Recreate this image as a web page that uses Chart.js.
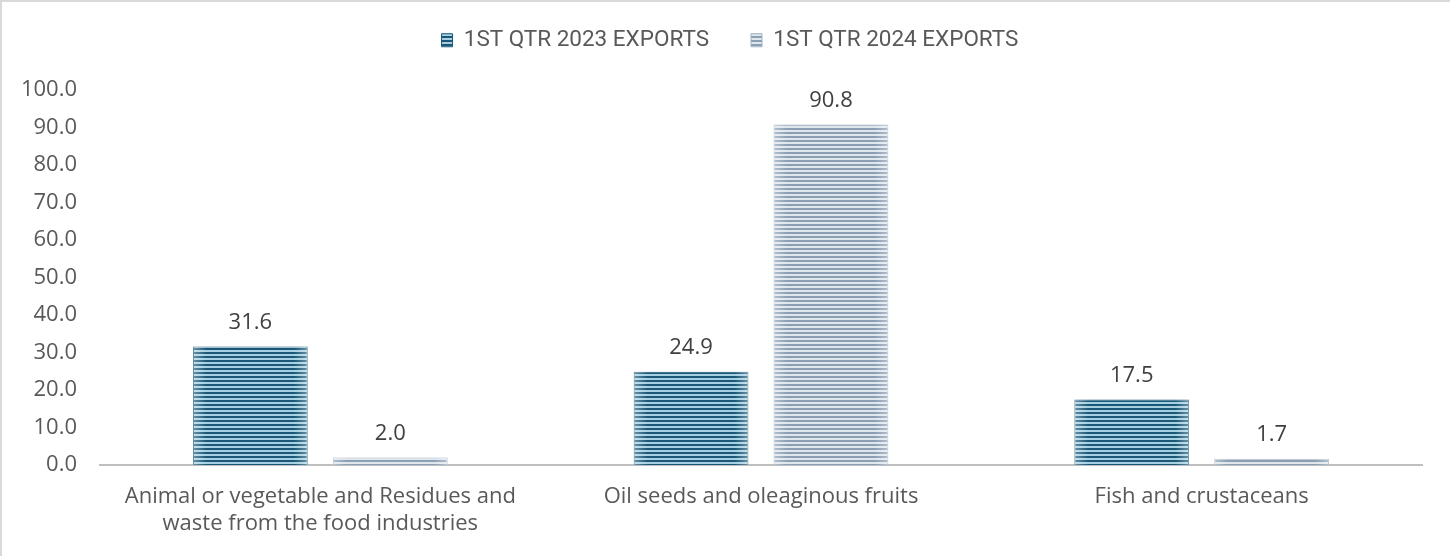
<!DOCTYPE html>
<html>
<head>
<meta charset="utf-8">
<script src="https://cdn.jsdelivr.net/npm/chart.js@4.4.1/dist/chart.umd.min.js"></script>
<style>
    html, body { margin: 0; padding: 0; background: #fff; }
    .frame { position: relative; width: 1450px; height: 556px; }
    .frame::after {
        content: ''; position: absolute; left: 0; top: 0; right: 0; bottom: 0;
        border-top: 2px solid #d9d9d9; border-left: 2px solid #d9d9d9; pointer-events: none;
    }
</style>
</head>
<body>
<div class="frame"><canvas id="chart" width="1450" height="556"></canvas></div>
<script>
const categories = [
    ['Animal or vegetable and Residues and', 'waste from the food industries'],
    'Oil seeds and oleaginous fruits',
    'Fish and crustaceans',
];
const seriesNames = ['1ST QTR 2023 EXPORTS', '1ST QTR 2024 EXPORTS'];
const exports2023 = [31.6, 24.9, 17.5];
const exports2024 = [2.0, 90.8, 1.7];

const tickColor = '#595959';
const textFont = 'Open Sans';

function stripePattern(dark, light) {
    const tile = document.createElement('canvas');
    tile.width = 4;
    tile.height = 4;
    const c = tile.getContext('2d');
    c.fillStyle = light;
    c.fillRect(0, 0, 4, 4);
    c.fillStyle = dark;
    c.fillRect(0, 0, 4, 2);
    return document.getElementById('chart').getContext('2d').createPattern(tile, 'repeat');
}

const valueLabels = {
    id: 'valueLabels',
    afterDatasetsDraw(chart) {
        const ctx = chart.ctx;
        ctx.save();
        chart.data.datasets.forEach((ds, i) => {
            chart.getDatasetMeta(i).data.forEach((bar, j) => {
                // soft light edges on each bar
                const w = bar.width;
                const g = ctx.createLinearGradient(bar.x - w / 2, 0, bar.x + w / 2, 0);
                g.addColorStop(0, 'rgba(255,255,255,0.35)');
                g.addColorStop(0.12, 'rgba(255,255,255,0)');
                g.addColorStop(0.88, 'rgba(255,255,255,0)');
                g.addColorStop(1, 'rgba(255,255,255,0.35)');
                ctx.fillStyle = g;
                ctx.fillRect(bar.x - w / 2, bar.y, w, bar.base - bar.y);

                ctx.fillStyle = '#404040';
                ctx.font = '22px "' + textFont + '"';
                ctx.textAlign = 'center';
                ctx.textBaseline = 'middle';
                ctx.fillText(ds.data[j].toFixed(1), bar.x, bar.y - 24);
            });
        });
        ctx.restore();
    },
};

const legendSpacing = {
    id: 'legendSpacing',
    beforeInit(chart) {
        const fit = chart.legend.fit;
        chart.legend.fit = function () {
            fit.bind(chart.legend)();
            this.height = 103;
        };
    },
    afterLayout(chart) {
        // legend sits centred on the whole canvas, not the padded box
        chart.legend.left += 19;
        chart.legend.right += 19;
    },
};

new Chart(document.getElementById('chart'), {
    type: 'bar',
    data: {
        labels: categories,
        datasets: [
            {
                label: seriesNames[0],
                data: exports2023,
                backgroundColor: stripePattern('#1b5877', '#a6d0e1'),
                borderColor: '#1b5877',
                borderWidth: 1,
            },
            {
                label: seriesNames[1],
                data: exports2024,
                backgroundColor: stripePattern('#8a9fb3', '#dfe6ec'),
                borderColor: '#9fb0c1',
                borderWidth: 1,
            },
        ],
    },
    options: {
        responsive: false,
        animation: false,
        categoryPercentage: 0.635,
        barPercentage: 0.82,
        layout: { padding: { left: 0, right: 28, top: -13, bottom: 0 } },
        plugins: {
            legend: {
                position: 'top',
                labels: {
                    color: tickColor,
                    font: { family: 'Roboto', size: 22.5 },
                    boxWidth: 11,
                    boxHeight: 13,
                    padding: 42,
                },
            },
            tooltip: { enabled: false },
        },
        scales: {
            x: {
                grid: { display: false, drawTicks: false },
                border: { color: '#bfbfbf', width: 2 },
                ticks: { color: tickColor, padding: 18, maxRotation: 0, font: { family: textFont, size: 22, lineHeight: 1.23 } },
                afterFit: (scale) => { scale.height = 91; },
            },
            y: {
                min: 0,
                max: 100,
                grid: { display: false, drawTicks: false },
                border: { display: false },
                ticks: {
                    stepSize: 10,
                    color: tickColor,
                    padding: 23,
                    font: { family: textFont, size: 22 },
                    callback: (v) => v.toFixed(1),
                },
                afterFit: (scale) => { scale.width = 100; },
            },
        },
    },
    plugins: [valueLabels, legendSpacing],
});
</script>
</body>
</html>
